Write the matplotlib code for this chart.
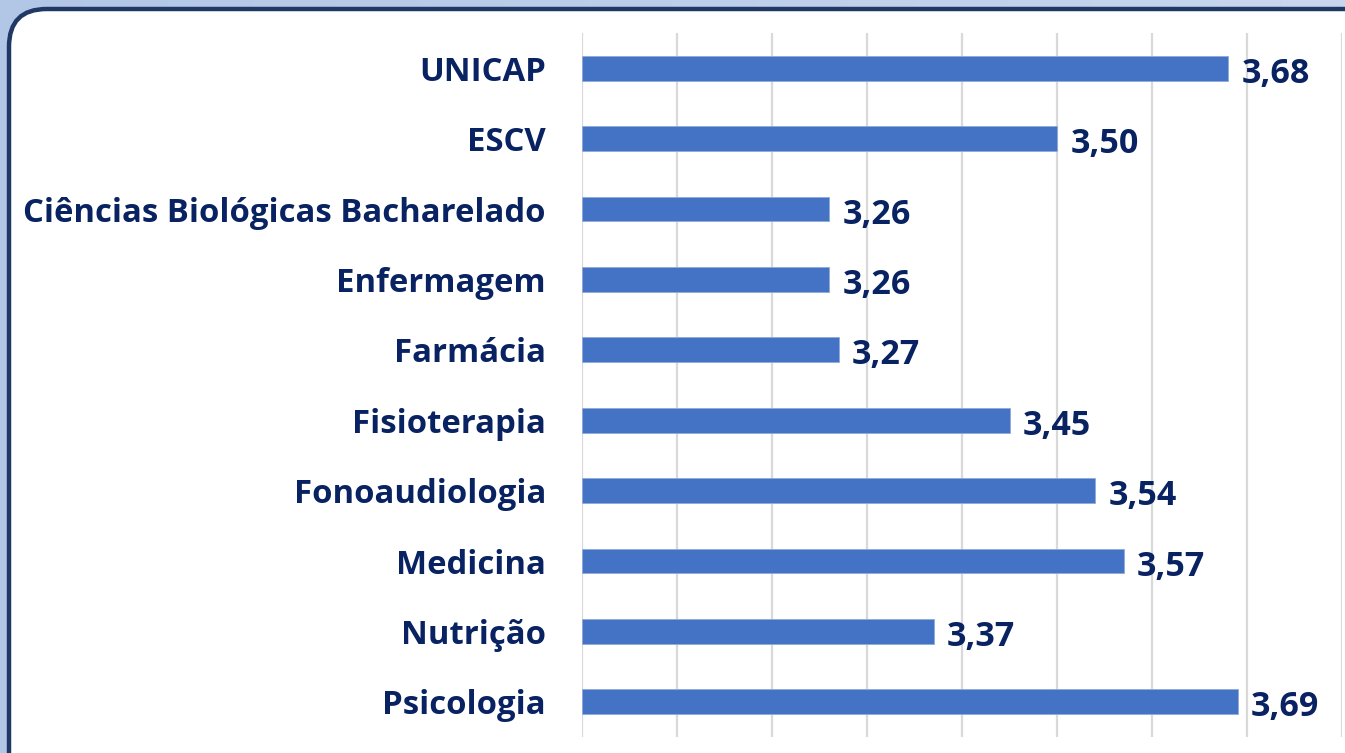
import numpy as np
import matplotlib.pyplot as plt
from matplotlib.patches import FancyBboxPatch

plt.rcParams["font.family"] = ["Open Sans", "DejaVu Sans"]

# dados
cursos = [
    "UNICAP",
    "ESCV",
    "Ciências Biológicas Bacharelado",
    "Enfermagem",
    "Farmácia",
    "Fisioterapia",
    "Fonoaudiologia",
    "Medicina",
    "Nutrição",
    "Psicologia",
]
medias = [3.68, 3.50, 3.26, 3.26, 3.27, 3.45, 3.54, 3.57, 3.37, 3.69]

azul_barra = "#4472c4"
azul_texto = "#082262"

fig = plt.figure(figsize=(13.45, 7.53), dpi=100)

# fundo com degradê azul claro
bg = fig.add_axes([0, 0, 1, 1], zorder=-2)
grad = np.linspace(0, 1, 256).reshape(1, -1)
bg.imshow(grad, aspect="auto", cmap=plt.matplotlib.colors.LinearSegmentedColormap.from_list(
    "fundo", ["#b2c6e6", "#c8d6ee"]), extent=[0, 1, 0, 1])
bg.set_xlim(0, 1)
bg.set_ylim(0, 1)
bg.axis("off")

# caixa branca com borda arredondada
caixa = FancyBboxPatch(
    (9 / 1345, -0.1), 1.2, (753 - 9) / 753 + 0.1,
    boxstyle="round,pad=0,rounding_size=0.028",
    transform=fig.transFigure, facecolor="white",
    edgecolor="#1f3864", linewidth=3.2, zorder=-1,
    mutation_aspect=1345 / 753,
)
fig.patches.append(caixa)

ax = fig.add_axes([582 / 1345, 16 / 753, 760 / 1345, 704 / 753])
ax.patch.set_alpha(0)

y = np.arange(len(cursos))
ax.barh(y, np.array(medias) - 3.0, left=3.0, height=0.355,
        color=azul_barra, edgecolor="#8eaadb", linewidth=0.6, zorder=3)

ax.set_xlim(3.0, 3.8)
ax.set_ylim(len(cursos) - 0.5, -0.5)
ax.set_xticks(np.arange(3.0, 3.81, 0.1))
ax.xaxis.grid(True, color="#d9d9d9", linewidth=1.6, zorder=0)
ax.tick_params(axis="x", length=0, labelbottom=False)
ax.tick_params(axis="y", length=0, pad=26)
ax.set_yticks(y)
ax.set_yticklabels(cursos, fontsize=23.7, fontweight="bold", color=azul_texto)
for s in ax.spines.values():
    s.set_visible(False)

# rótulos de valor
for i, v in enumerate(medias):
    ax.text(v + 0.014, i + 0.08, f"{v:.2f}".replace(".", ","),
            va="center", ha="left", fontsize=24.5, fontweight="bold",
            color=azul_texto)

fig.savefig("out.png", dpi=100)
